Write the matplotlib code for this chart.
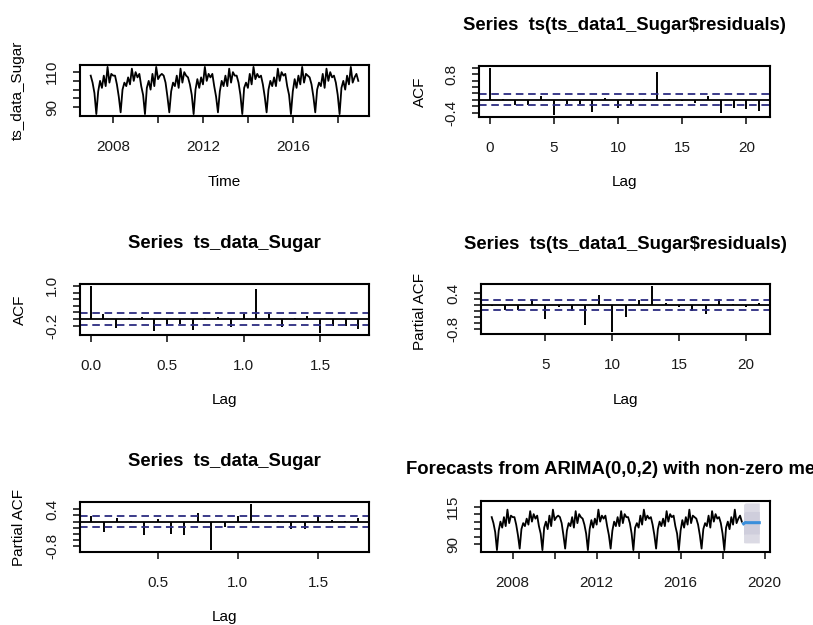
import numpy as np
import matplotlib
matplotlib.use("Agg")
import matplotlib.pyplot as plt

plt.rcParams['font.family'] = ['Liberation Sans', 'DejaVu Sans']

W, H = 813, 625

# monthly series, ts(start=2007, frequency=12)
ts_start = 2007
ts_freq = 12
sugar = [108, 104, 98,
         86, 99, 105, 101, 108, 102, 113, 104, 109, 108, 108, 103, 96,
         87, 100, 104, 102, 107, 103, 112, 105, 110, 107, 109, 102, 97,
         86, 101, 105, 100, 109, 102, 113, 106, 108, 109, 108, 104, 96,
         87, 99, 104, 102, 108, 101, 112, 104, 110, 108, 107, 103, 97,
         86, 100, 106, 101, 107, 103, 113, 105, 109, 107, 109, 102, 96,
         87, 99, 105, 102, 108, 102, 112, 104, 110, 108, 108, 104, 97,
         86, 101, 104, 101, 109, 103, 113, 106, 109, 107, 108, 103, 96,
         87, 100, 105, 102, 107, 102, 112, 105, 110, 108, 109, 102, 97,
         86, 99, 106, 101, 108, 103, 113, 104, 109, 108, 107, 103, 96,
         87, 100, 104, 102, 109, 101, 112, 105, 110, 107, 108, 104, 97,
         86, 101, 105, 100, 108, 103, 113, 104, 107, 109, 105]

# acf / pacf of the model residuals (lags 0..21 and 1..21)
acf_resid = [1.0, 0.02, -0.15, -0.15, 0.13, -0.48, -0.14, -0.14, -0.37, 0.07, -0.27,
             -0.13, 0.03, 0.88, 0.03, -0.05, -0.11, 0.13, -0.42, -0.26, -0.28, -0.34]
pacf_resid = [-0.02, -0.16, -0.16, 0.19, -0.47, -0.05, -0.21, -0.65, 0.33, -0.9, -0.39,
              0.16, 0.64, 0.08, -0.07, -0.21, -0.28, 0.19, 0.05, -0.05, 0.08]

# acf / pacf of the raw series (lag in years)
acf_sugar = [1.0, 0.16, -0.27, 0.03, 0.07, -0.35, -0.18, -0.16, -0.33, 0.02, 0.05,
             -0.23, 0.16, 0.92, 0.16, -0.24, 0.03, 0.08, -0.42, -0.2, -0.21, -0.3]
pacf_sugar = [0.19, -0.32, 0.1, 0.03, -0.44, 0.07, -0.39, -0.44, 0.26, -0.92, -0.18,
              0.19, 0.57, 0.0, 0.01, -0.25, -0.23, 0.19, 0.05, 0.03, 0.12]
ci = 0.17

# forecasts, 10 months from 2019
fc_mean = [103.6, 104.4, 104.3, 104.3, 104.3, 104.3, 104.3, 104.3, 104.3, 104.3]
fc_lo80 = [96.5, 96.8, 96.8, 96.8, 96.8, 96.8, 96.8, 96.8, 96.8, 96.8]
fc_hi80 = [110.8, 111.8, 111.8, 111.8, 111.8, 111.8, 111.8, 111.8, 111.8, 111.8]
fc_lo95 = [91.0, 90.8, 90.8, 90.8, 90.8, 90.8, 90.8, 90.8, 90.8, 90.8]
fc_hi95 = [116.5, 117.5, 117.5, 117.5, 117.5, 117.5, 117.5, 117.5, 117.5, 117.5]

year_ticks = [2008, 2010, 2012, 2014, 2016, 2018, 2020]
year_labels = ['2008', '', '2012', '', '2016', '', '2020']

t = ts_start + np.arange(len(sugar)) / ts_freq
t_fc = ts_start + (len(sugar) + np.arange(len(fc_mean))) / ts_freq

fig = plt.figure(figsize=(W / 100, H / 100), dpi=100)
ci_col = '#2B2B80'
dash = (0, (4.2, 2.6))


def make_ax(l, tp, r, b):
    ax = fig.add_axes([l / W, 1 - b / H, (r - l) / W, (b - tp) / H])
    ax.tick_params(length=5, width=1.2, labelsize=11, pad=10, colors='#1a1a1a')
    ax.tick_params(axis='x', pad=12)
    for s in ax.spines.values():
        s.set_linewidth(1.5)
    ax.margins(x=0.04, y=0.04)
    return ax


def set_y(ax, ticks, labels):
    ax.set_yticks(ticks)
    ax.set_yticklabels(labels, rotation=90, va='center')


def label(x, y, s, **kw):
    fig.text(x / W, 1 - y / H, s, ha='center', va='center', **kw)


def spikes(ax, lags, vals):
    ax.vlines(lags, 0, vals, color='black', lw=1.4)
    ax.axhline(0, color='black', lw=1.3)
    ax.axhline(ci, color=ci_col, lw=1.3, ls=dash)
    ax.axhline(-ci, color=ci_col, lw=1.3, ls=dash)


# panel 1: series
ax1 = make_ax(80, 65, 369, 116)
ax1.plot(t, sugar, color='black', lw=1.3)
ax1.set_xticks(year_ticks[:-1])
ax1.set_xticklabels(year_labels[:-1])
set_y(ax1, [90, 95, 100, 105, 110], ['90', '', '', '', '110'])
label(18, 90, 'ts_data_Sugar', rotation=90, fontsize=11)
label(224.5, 182, 'Time', fontsize=11)

# panel 2: acf of residuals
ax2 = make_ax(479, 66, 770, 117)
spikes(ax2, np.arange(len(acf_resid)), acf_resid)
ax2.set_xticks([0, 5, 10, 15, 20])
set_y(ax2, [-0.4, -0.2, 0.0, 0.2, 0.4, 0.6, 0.8, 1.0],
      ['-0.4', '', '', '', '', '', '0.8', ''])
label(624.5, 25, 'Series  ts(ts_data1_Sugar$residuals)', fontsize=13.3, fontweight='bold')
label(420, 91.5, 'ACF', rotation=90, fontsize=11)
label(624.5, 182, 'Lag', fontsize=11)

# panel 3: acf of series
ax3 = make_ax(80, 284, 369, 335)
spikes(ax3, np.arange(len(acf_sugar)) / ts_freq, acf_sugar)
ax3.set_xticks([0.0, 0.5, 1.0, 1.5])
ax3.set_xticklabels(['0.0', '0.5', '1.0', '1.5'])
set_y(ax3, [-0.2, 0.0, 0.2, 0.4, 0.6, 0.8, 1.0],
      ['-0.2', '', '', '', '', '', '1.0'])
label(224.5, 243, 'Series  ts_data_Sugar', fontsize=13.3, fontweight='bold')
label(20, 310, 'ACF', rotation=90, fontsize=11)
label(224.5, 400, 'Lag', fontsize=11)

# panel 4: pacf of residuals
ax4 = make_ax(481, 284, 770, 334)
spikes(ax4, np.arange(1, len(pacf_resid) + 1), pacf_resid)
ax4.set_xticks([5, 10, 15, 20])
set_y(ax4, [-0.8, -0.6, -0.4, -0.2, 0.0, 0.2, 0.4],
      ['-0.8', '', '', '', '', '', '0.4'])
label(625.5, 244, 'Series  ts(ts_data1_Sugar$residuals)', fontsize=13.3, fontweight='bold')
label(420, 311, 'Partial ACF', rotation=90, fontsize=11)
label(625.5, 400, 'Lag', fontsize=11)

# panel 5: pacf of series
ax5 = make_ax(80, 502, 369, 552)
spikes(ax5, np.arange(1, len(pacf_sugar) + 1) / ts_freq, pacf_sugar)
ax5.set_xticks([0.5, 1.0, 1.5])
ax5.set_xticklabels(['0.5', '1.0', '1.5'])
set_y(ax5, [-0.8, -0.6, -0.4, -0.2, 0.0, 0.2, 0.4],
      ['-0.8', '', '', '', '', '', '0.4'])
label(224.5, 461, 'Series  ts_data_Sugar', fontsize=13.3, fontweight='bold')
label(19, 527, 'Partial ACF', rotation=90, fontsize=11)
label(224.5, 617, 'Lag', fontsize=11)

# panel 6: forecasts (title runs past the right edge, as in the original)
ax6 = make_ax(481, 501, 770, 552)
ax6.fill_between(t_fc, fc_lo95, fc_hi95, color='#DBDAE4', lw=0)
ax6.fill_between(t_fc, fc_lo80, fc_hi80, color='#CFCEDC', lw=0)
ax6.plot(t, sugar, color='black', lw=1.3)
ax6.plot(t_fc, fc_mean, color='#3B8FDB', lw=2.2)
ax6.set_xticks(year_ticks)
ax6.set_xticklabels(year_labels)
set_y(ax6, [90, 95, 100, 105, 110, 115], ['90', '', '', '', '', '115'])
fig.text(406 / W, 1 - 469 / H, 'Forecasts from ARIMA(0,0,2) with non-zero mean',
         ha='left', va='center', fontsize=13.3, fontweight='bold')

fig.savefig('out.png', dpi=100)
